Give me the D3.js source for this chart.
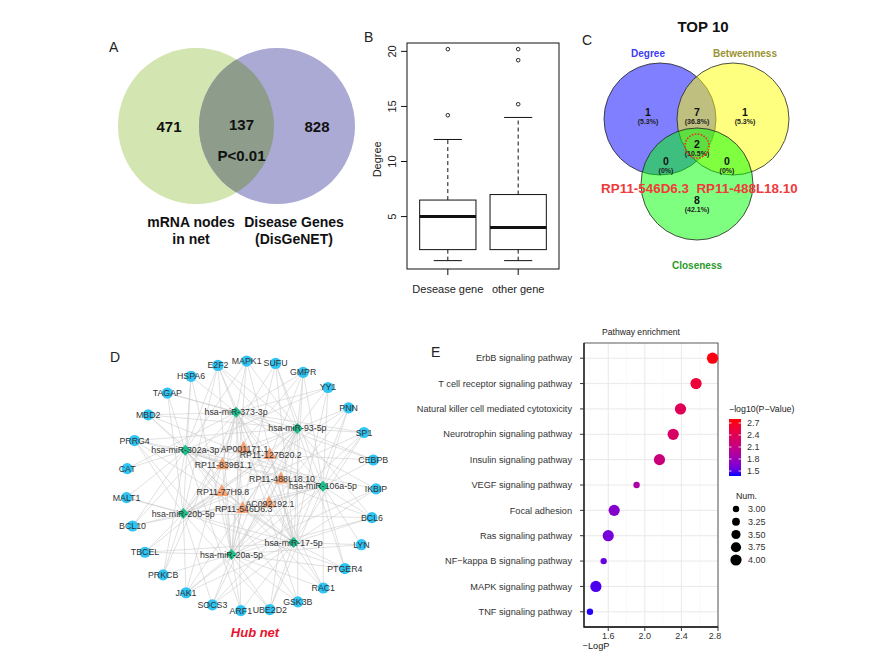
<!DOCTYPE html>
<html>
<head>
<meta charset="utf-8">
<script src="https://cdn.jsdelivr.net/npm/d3@7/dist/d3.min.js"></script>
<style>
  body { margin: 0; background: #fff; }
  text { font-family: "Liberation Sans", Arial, sans-serif; }
</style>
</head>
<body>
<svg width="880" height="661"></svg>
<script>
// ---- A: overlap of net mRNAs and disease genes
const vennALabels = [['mRNA nodes', 'in net'], ['Disease Genes', '(DisGeNET)']];
const vennACounts = [471, 137, 828];
const vennAP = 'P<0.01';

// ---- B: degree box plot
const boxGroups = ['Desease gene', 'other gene'];
const boxLow = [1, 1];
const boxQ1 = [2, 2];
const boxMedian = [5, 4];
const boxQ3 = [6.5, 7];
const boxHigh = [12, 14];
const boxOutliers = [[14.2, 20.2], [15.2, 19.2, 20.2]];
const boxTicks = [5, 10, 15, 20];

// ---- C: top 10 venn
const vennCSets = ['Degree', 'Betweenness', 'Closeness'];
const vennCRegions = ['D', 'B', 'C', 'DB', 'DC', 'BC', 'DBC'];
const vennCCounts = [1, 1, 8, 7, 0, 0, 2];
const vennCPercents = ['5.3%', '5.3%', '42.1%', '36.8%', '0%', '0%', '10.5%'];
const vennCHits = ['RP11-546D6.3', 'RP11-488L18.10'];

// ---- D: hub network
const geneNodes = ['MAPK1', 'SUFU', 'GMPR', 'YY1', 'PNN', 'SP1', 'CEBPB', 'IKBIP', 'BCL6', 'LYN',
  'PTGER4', 'RAC1', 'GSK3B', 'UBE2D2', 'ARF1', 'SOCS3', 'JAK1', 'PRKCB', 'TBCEL', 'BCL10',
  'MALT1', 'CAT', 'PRRG4', 'MBD2', 'TAGAP', 'HSPA6', 'E2F2'];
const mirNodes = ['hsa-miR-373-3p', 'hsa-miR-93-5p', 'hsa-miR-106a-5p', 'hsa-miR-17-5p',
  'hsa-miR-20a-5p', 'hsa-miR-20b-5p', 'hsa-miR-302a-3p'];
const lncNodes = ['AP001171.1', 'RP11-127B20.2', 'RP11-488L18.10', 'AC092192.1',
  'RP11-546D6.3', 'RP11-77H9.8', 'RP11-839B1.1'];
// miRNA partners of each gene (short ids: 373, 93, 106, 17, 20a, 20b, 302)
const geneLinks = [
  ['373', '302', '93', '17', '20a'],
  ['93', '106', '17', '20a', '20b'],
  ['93', '106', '17', '20a', '20b', '373'],
  ['373', '302', '93', '106', '17'],
  ['93', '106', '17', '20b', '20a'],
  ['93', '106', '17', '20b', '20a', '373'],
  ['373', '302', '93', '106'],
  ['373', '302', '17', '20a'],
  ['93', '106', '17', '20b', '20a', '302'],
  ['106', '17', '20a'],
  ['93', '106', '17', '20b', '20a'],
  ['373', '302', '17', '20a', '106'],
  ['373', '302', '93', '20a'],
  ['93', '106', '17', '20a', '20b'],
  ['373', '302', '20a', '17'],
  ['93', '106', '17', '20b', '20a'],
  ['93', '106', '17', '20b', '20a', '373'],
  ['302', '373', '20b', '20a'],
  ['93', '17', '20b', '20a'],
  ['302', '373', '20b', '106'],
  ['302', '20b', '17'],
  ['302', '373'],
  ['93', '106', '17', '20b', '20a', '302'],
  ['93', '106', '17', '373', '302'],
  ['302', '373', '20b', '93'],
  ['373', '302', '20b', '20a'],
  ['93', '106', '20b', '17', '20a', '373', '302']
];
const lncLinks = [
  ['373', '93', '302', '17', '20a', '106'],
  ['373', '93', '106', '20b', '17'],
  ['93', '106', '17', '20a', '20b', '302', '373'],
  ['106', '17', '20a', '93', '20b'],
  ['373', '93', '302', '106', '20b', '17', '20a'],
  ['302', '20b', '20a', '17', '373'],
  ['373', '302', '20b', '20a', '93']
];
const mirShort = ['373', '93', '106', '17', '20a', '20b', '302'];

// ---- E: pathway enrichment
const pathways = ['ErbB signaling pathway', 'T cell receptor signaling pathway',
  'Natural killer cell mediated cytotoxicity', 'Neurotrophin signaling pathway',
  'Insulin signaling pathway', 'VEGF signaling pathway', 'Focal adhesion',
  'Ras signaling pathway', 'NF\u2212kappa B signaling pathway', 'MAPK signaling pathway',
  'TNF signaling pathway'];
const logP = [2.74, 2.56, 2.39, 2.31, 2.16, 1.91, 1.665, 1.60, 1.55, 1.465, 1.40];
const pathNum = [4, 4, 4, 4, 4, 3, 4, 4, 3, 4, 3];
const logPTicks = [1.6, 2.0, 2.4, 2.8];
const colorTicks = [1.5, 1.8, 2.1, 2.4, 2.7];
const sizeTicks = [3.00, 3.25, 3.50, 3.75, 4.00];

const svg = d3.select('svg');
const letter = (x, y, t) => svg.append('text').attr('x', x).attr('y', y)
  .attr('font-size', 14).attr('fill', '#222').text(t);

// ================= A =================
{
  const r = 78, cy = 126;
  const c1 = 196, c2 = 277;
  const g = svg.append('g');
  letter(109, 52, 'A');
  g.append('circle').attr('cx', c1).attr('cy', cy).attr('r', r).attr('fill', '#d3e5b1');
  g.append('circle').attr('cx', c2).attr('cy', cy).attr('r', r).attr('fill', '#abaad4');
  g.append('clipPath').attr('id', 'clipA').append('circle')
    .attr('cx', c1).attr('cy', cy).attr('r', r);
  g.append('circle').attr('cx', c2).attr('cy', cy).attr('r', r)
    .attr('fill', '#8e9c8c').attr('clip-path', 'url(#clipA)');
  const numX = [c1 - 27, (c1 + c2) / 2 + 5, c2 + 40];
  g.selectAll('.na').data(vennACounts).enter().append('text')
    .attr('x', (d, i) => numX[i]).attr('y', (d, i) => i === 1 ? cy + 4 : cy + 6)
    .attr('text-anchor', 'middle').attr('font-size', 15).attr('font-weight', 'bold')
    .attr('fill', '#111').text(d => d);
  g.append('text').attr('x', (c1 + c2) / 2 + 5).attr('y', cy + 35).attr('text-anchor', 'middle')
    .attr('font-size', 15).attr('font-weight', 'bold').attr('fill', '#111').text(vennAP);
  const labX = [191, 294];
  vennALabels.forEach((lines, i) => {
    lines.forEach((t, j) => {
      g.append('text').attr('x', labX[i]).attr('y', 227 + j * 17).attr('text-anchor', 'middle')
        .attr('font-size', 14).attr('font-weight', 'bold').attr('fill', '#111').text(t);
    });
  });
}

// ================= B =================
{
  const left = 407, right = 559, top = 43, bottom = 269;
  letter(364, 42, 'B');
  const x = d3.scaleLinear().domain([0.42, 2.58]).range([left, right]);
  const y = d3.scaleLinear().domain([0.24, 20.76]).range([bottom, top]);
  const g = svg.append('g');
  g.append('rect').attr('x', left).attr('y', top).attr('width', right - left)
    .attr('height', bottom - top).attr('fill', 'none').attr('stroke', '#111').attr('stroke-width', 1);
  // y ticks
  boxTicks.forEach(t => {
    g.append('line').attr('x1', left - 6).attr('x2', left).attr('y1', y(t)).attr('y2', y(t))
      .attr('stroke', '#111');
    g.append('text').attr('transform', `translate(${left - 11},${y(t)}) rotate(-90)`)
      .attr('text-anchor', 'middle').attr('font-size', 11).attr('fill', '#222').text(t);
  });
  g.append('text').attr('transform', `translate(${381},${y(10.2)}) rotate(-90)`)
    .attr('text-anchor', 'middle').attr('font-size', 11).attr('fill', '#222').text('Degree');
  const hw = x(1.4) - x(1), cw = hw / 2;
  boxGroups.forEach((name, i) => {
    const cx = x(i + 1);
    g.append('line').attr('x1', cx).attr('x2', cx).attr('y1', bottom).attr('y2', bottom + 6)
      .attr('stroke', '#111');
    g.append('text').attr('x', cx).attr('y', bottom + 24).attr('text-anchor', 'middle')
      .attr('font-size', 11).attr('fill', '#222').text(name);
    // whiskers
    [[boxLow[i], boxQ1[i]], [boxQ3[i], boxHigh[i]]].forEach(([a, b]) => {
      g.append('line').attr('x1', cx).attr('x2', cx).attr('y1', y(a)).attr('y2', y(b))
        .attr('stroke', '#111').attr('stroke-dasharray', '4,3');
    });
    [boxLow[i], boxHigh[i]].forEach(v => {
      g.append('line').attr('x1', cx - cw).attr('x2', cx + cw).attr('y1', y(v)).attr('y2', y(v))
        .attr('stroke', '#111');
    });
    g.append('rect').attr('x', cx - hw).attr('y', y(boxQ3[i])).attr('width', hw * 2)
      .attr('height', y(boxQ1[i]) - y(boxQ3[i])).attr('fill', '#fff').attr('stroke', '#111');
    g.append('line').attr('x1', cx - hw).attr('x2', cx + hw)
      .attr('y1', y(boxMedian[i])).attr('y2', y(boxMedian[i]))
      .attr('stroke', '#111').attr('stroke-width', 3);
    g.selectAll(null).data(boxOutliers[i]).enter().append('circle')
      .attr('cx', cx).attr('cy', d => y(d)).attr('r', 1.8)
      .attr('fill', 'none').attr('stroke', '#111').attr('stroke-width', 0.9);
  });
}

// ================= C =================
{
  const r = 56;
  const centers = [[660, 119], [733, 119], [697, 184]];
  const fills = ['#0000ff', '#ffff00', '#00ff00'];
  const labColors = ['#3b3bf5', '#9a9232', '#2a9a2a'];
  const g = svg.append('g');
  letter(582, 45, 'C');
  g.append('text').attr('x', 703).attr('y', 32).attr('text-anchor', 'middle')
    .attr('font-size', 15).attr('font-weight', 'bold').attr('fill', '#111').text('TOP 10');
  g.selectAll('.vc').data(vennCSets).enter().append('circle')
    .attr('cx', (d, i) => centers[i][0]).attr('cy', (d, i) => centers[i][1]).attr('r', r)
    .attr('fill', (d, i) => fills[i]).attr('fill-opacity', 0.5)
    .attr('stroke', '#222').attr('stroke-width', 0.8);
  const setLab = [[648, 57], [745, 57], [697, 269]];
  g.selectAll('.vl').data(vennCSets).enter().append('text')
    .attr('x', (d, i) => setLab[i][0]).attr('y', (d, i) => setLab[i][1])
    .attr('text-anchor', 'middle').attr('font-size', 10).attr('font-weight', 'bold')
    .attr('fill', (d, i) => labColors[i]).text(d => d);
  const regPos = { D: [648, 113], B: [745, 113], C: [697, 201], DB: [697, 113],
    DC: [666, 162], BC: [727, 162], DBC: [697, 145] };
  vennCRegions.forEach((k, i) => {
    const [px, py] = regPos[k];
    g.append('text').attr('x', px).attr('y', py + 3).attr('text-anchor', 'middle')
      .attr('font-size', 10.5).attr('font-weight', 'bold').attr('fill', '#111').text(vennCCounts[i]);
    g.append('text').attr('x', px).attr('y', py + 10.5).attr('text-anchor', 'middle')
      .attr('font-size', 7).attr('font-weight', 'bold').attr('fill', '#222')
      .text('(' + vennCPercents[i] + ')');
  });
  g.append('circle').attr('cx', 697).attr('cy', 146).attr('r', 12).attr('fill', 'none')
    .attr('stroke', '#ee2a2a').attr('stroke-width', 1.6).attr('stroke-dasharray', '1.5,1.5');
  const hitX = [645, 747];
  g.selectAll('.hit').data(vennCHits).enter().append('text')
    .attr('x', (d, i) => hitX[i]).attr('y', 193).attr('text-anchor', 'middle')
    .attr('font-size', 13.4).attr('font-weight', 'bold').attr('fill', '#ef3b3b').text(d => d);
}

// ================= D =================
{
  const g = svg.append('g');
  letter(110, 362, 'D');
  const deg = Math.PI / 180;
  const ring = (n, a0, cx, cy, r) => {
    const a = d3.scaleLinear().domain([0, n]).range([a0, a0 + 360]);
    return i => [cx + r * Math.cos(a(i) * deg), cy + r * Math.sin(a(i) * deg)];
  };
  const genePos = ring(geneNodes.length, -92, 251, 486, 125);
  const mirPos = ring(mirNodes.length, -101, 250, 484, 73);
  const lncPos = ring(lncNodes.length, -102, 250, 478, 31);
  const pos = {};
  geneNodes.forEach((n, i) => pos[n] = genePos(i));
  mirNodes.forEach((n, i) => pos[mirShort[i]] = pos[n] = mirPos(i));
  lncNodes.forEach((n, i) => pos[n] = lncPos(i));
  const edges = [];
  geneNodes.forEach((n, i) => geneLinks[i].forEach(m => edges.push([n, m])));
  lncNodes.forEach((n, i) => lncLinks[i].forEach(m => edges.push([n, m])));
  g.selectAll('.edge').data(edges).enter().append('line')
    .attr('x1', d => pos[d[0]][0]).attr('y1', d => pos[d[0]][1])
    .attr('x2', d => pos[d[1]][0]).attr('y2', d => pos[d[1]][1])
    .attr('stroke', '#c8c8c8').attr('stroke-width', 0.6).attr('stroke-opacity', 0.9);
  g.selectAll('.gene').data(geneNodes).enter().append('circle')
    .attr('cx', d => pos[d][0]).attr('cy', d => pos[d][1]).attr('r', 5.6)
    .attr('fill', '#2ec4f4');
  g.selectAll('.mir').data(mirNodes).enter().append('path')
    .attr('transform', d => `translate(${pos[d][0]},${pos[d][1]})`)
    .attr('d', 'M0,-5.5L5.5,0L0,5.5L-5.5,0Z').attr('fill', '#1dbf8c');
  g.selectAll('.lnc').data(lncNodes).enter().append('path')
    .attr('transform', d => `translate(${pos[d][0]},${pos[d][1]})`)
    .attr('d', 'M0,-7L6.5,5L-6.5,5Z').attr('fill', '#f6a274');
  const lab = (nodes, dx, dy) => g.selectAll(null).data(nodes).enter().append('text')
    .attr('x', d => pos[d][0] + dx).attr('y', d => pos[d][1] + dy)
    .attr('text-anchor', 'middle').attr('font-size', 8.8).attr('fill', '#333').text(d => d);
  lab(geneNodes, 0, 3);
  lab(mirNodes, 0, 3);
  lab(lncNodes, 1, 4);
  g.append('text').attr('x', 255).attr('y', 637).attr('text-anchor', 'middle')
    .attr('font-size', 13).attr('font-weight', 'bold').attr('font-style', 'italic')
    .attr('fill', '#e8132e').text('Hub net');
}

// ================= E =================
{
  const left = 584, right = 718, top = 343, bottom = 627;
  const g = svg.append('g');
  letter(431, 357, 'E');
  const x = d3.scaleLinear().domain([1.335, 2.8]).range([left, right]);
  const y = d3.scalePoint().domain(pathways).range([top, bottom]).padding(0.6);
  const color = d3.scaleLinear().domain([1.38, 2.78]).range(['#0000ff', '#ff0000'])
    .interpolate(d3.interpolateLab);
  const area = d3.scaleLinear().domain([3, 4]).range([10.2, 31.4]);
  const rad = v => Math.sqrt(area(v));
  g.append('rect').attr('x', left).attr('y', top).attr('width', right - left)
    .attr('height', bottom - top).attr('fill', '#fff');
  const minor = d3.range(1.4, 2.8, 0.4);
  minor.forEach(v => g.append('line').attr('x1', x(v)).attr('x2', x(v)).attr('y1', top)
    .attr('y2', bottom).attr('stroke', '#f2f2f2').attr('stroke-width', 0.5));
  logPTicks.forEach(v => g.append('line').attr('x1', x(v)).attr('x2', x(v)).attr('y1', top)
    .attr('y2', bottom).attr('stroke', '#e6e6e6').attr('stroke-width', 0.9));
  pathways.forEach(p => g.append('line').attr('x1', left).attr('x2', right).attr('y1', y(p))
    .attr('y2', y(p)).attr('stroke', '#e6e6e6').attr('stroke-width', 0.9));
  g.append('rect').attr('x', left).attr('y', top).attr('width', right - left)
    .attr('height', bottom - top).attr('fill', 'none').attr('stroke', '#333').attr('stroke-width', 0.8);
  g.append('path').attr('d', `M${left},${top}V${bottom}H${right}`).attr('fill', 'none')
    .attr('stroke', '#111').attr('stroke-width', 1.3);
  pathways.forEach(p => {
    g.append('line').attr('x1', left - 4).attr('x2', left).attr('y1', y(p)).attr('y2', y(p))
      .attr('stroke', '#333');
    g.append('text').attr('x', left - 12).attr('y', y(p) + 3.2).attr('text-anchor', 'end')
      .attr('font-size', 9.2).attr('fill', '#333').text(p);
  });
  logPTicks.forEach(v => {
    g.append('line').attr('x1', x(v)).attr('x2', x(v)).attr('y1', bottom).attr('y2', bottom + 4)
      .attr('stroke', '#333');
    g.append('text').attr('x', Math.min(x(v), 715)).attr('y', bottom + 12).attr('text-anchor', 'middle')
      .attr('font-size', 9).attr('fill', '#333').text(v.toFixed(1));
  });
  g.append('text').attr('x', 596).attr('y', 649).attr('text-anchor', 'middle')
    .attr('font-size', 9.2).attr('fill', '#222').text('\u2212LogP');
  g.append('text').attr('x', 602).attr('y', 335).attr('font-size', 8.6)
    .attr('fill', '#222').text('Pathway enrichment');
  g.selectAll('.pt').data(pathways).enter().append('circle')
    .attr('cx', (d, i) => x(logP[i])).attr('cy', d => y(d)).attr('r', (d, i) => rad(pathNum[i]))
    .attr('fill', (d, i) => color(logP[i]));

  // colour legend
  const cb = d3.scaleLinear().domain([1.375, 2.8]).range([476, 419]);
  const grad = svg.append('defs').append('linearGradient').attr('id', 'cbar')
    .attr('x1', 0).attr('y1', 1).attr('x2', 0).attr('y2', 0);
  d3.range(0, 1.01, 0.1).forEach(t => grad.append('stop').attr('offset', t)
    .attr('stop-color', color(1.375 + t * 1.425)));
  g.append('text').attr('x', 729).attr('y', 412).attr('font-size', 8.8).attr('fill', '#222')
    .text('\u2212log10(P\u2212Value)');
  g.append('rect').attr('x', 729).attr('y', 419).attr('width', 12).attr('height', 57)
    .attr('fill', 'url(#cbar)');
  colorTicks.forEach(v => {
    g.append('line').attr('x1', 729).attr('x2', 731.5).attr('y1', cb(v)).attr('y2', cb(v))
      .attr('stroke', '#fff').attr('stroke-width', 0.8);
    g.append('line').attr('x1', 738.5).attr('x2', 741).attr('y1', cb(v)).attr('y2', cb(v))
      .attr('stroke', '#fff').attr('stroke-width', 0.8);
    g.append('text').attr('x', 747).attr('y', cb(v) + 3.2).attr('font-size', 9)
      .attr('fill', '#333').text(v.toFixed(1));
  });
  // size legend
  g.append('text').attr('x', 736).attr('y', 499).attr('font-size', 8.8).attr('fill', '#222')
    .text('Num.');
  const sy = d3.scaleLinear().domain([0, sizeTicks.length - 1]).range([509, 560]);
  sizeTicks.forEach((v, i) => {
    g.append('circle').attr('cx', 736).attr('cy', sy(i)).attr('r', rad(v)).attr('fill', '#000');
    g.append('text').attr('x', 748).attr('y', sy(i) + 3.2).attr('font-size', 9)
      .attr('fill', '#333').text(v.toFixed(2));
  });
}
</script>
</body>
</html>
